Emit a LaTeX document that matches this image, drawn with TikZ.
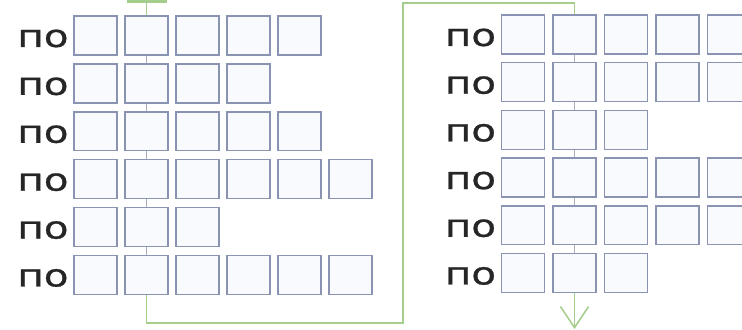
\documentclass[tikz,border=0pt]{standalone}
\usepackage{fontspec}
\usepackage{xcolor}
\usepackage{tikz}
\usetikzlibrary{positioning, arrows.meta, calc}

\newfontfamily\cyrfont[FakeStretch=1.3, FakeBold=0.8]{DejaVu Sans}
\definecolor{boxline}{RGB}{138,148,178}
\definecolor{boxfill}{RGB}{249,250,254}
\definecolor{flowgreen}{RGB}{165,205,140}
\definecolor{linkgray}{RGB}{170,175,190}

\begin{document}
\begin{tikzpicture}[
    x=0.02cm, y=-0.02cm,
    cell/.style={rectangle, draw=boxline, fill=boxfill, line width=0.8pt, minimum width=0.86cm, minimum height=0.78cm, inner sep=0pt},
    lab/.style={inner sep=0pt, text=black!85, font=\cyrfont\fontsize{17.7}{20}\selectfont},
    link/.style={draw=linkgray, line width=0.4pt},
    flow/.style={draw=flowgreen, line width=0.9pt}
]
\useasboundingbox (0,0) rectangle (742,330);
\clip (0,0) rectangle (742,330);

% left block
\foreach \n [count=\r] in {5,4,5,6,3,6} {
  \foreach \c in {1,...,\n}
    \node[cell] (l\r\c) at ({95.5+51*(\c-1)}, {35.5+47.9*(\r-1)}) {};
  \node[lab, left=2.5pt of l\r1, yshift=-1.7pt] (ll\r) {по};
}
% right block
\foreach \n [count=\r] in {5,5,3,5,5,3} {
  \foreach \c in {1,...,\n}
    \node[cell] (r\r\c) at ({523+51.5*(\c-1)}, {34.5+47.7*(\r-1)}) {};
  \node[lab, left=2.5pt of r\r1, yshift=-1.7pt] (rl\r) {по};
}

\foreach \r [evaluate=\r as \s using {int(\r+1)}] in {1,...,5} {
  \draw[link] (l\r2.south) -- (l\s2.north);
  \draw[link] (r\r2.south) -- (r\s2.north);
}

% green path
\coordinate (inL) at ($(l12.north |- 0,1)+(-20,0)$);
\coordinate (inR) at ($(l12.north |- 0,1)+(20,0)$);
\coordinate (in) at (l12.north |- 0,1);
\coordinate (turnA) at (403,323);
\coordinate (turnB) at (r12.north |- 0,3);
\coordinate (out) at (r62.south |- 0,329);

\draw[flow, line width=1.8pt] (inL) -- (inR);
\draw[flow] (in) -- (l12.north);
\draw[flow] (l62.south) |- (turnA) |- (turnB) -- (r12.north);
\draw[flow, -{Straight Barb[length=12pt, width=16pt]}] (r62.south) -- (out);
\end{tikzpicture}
\end{document}
